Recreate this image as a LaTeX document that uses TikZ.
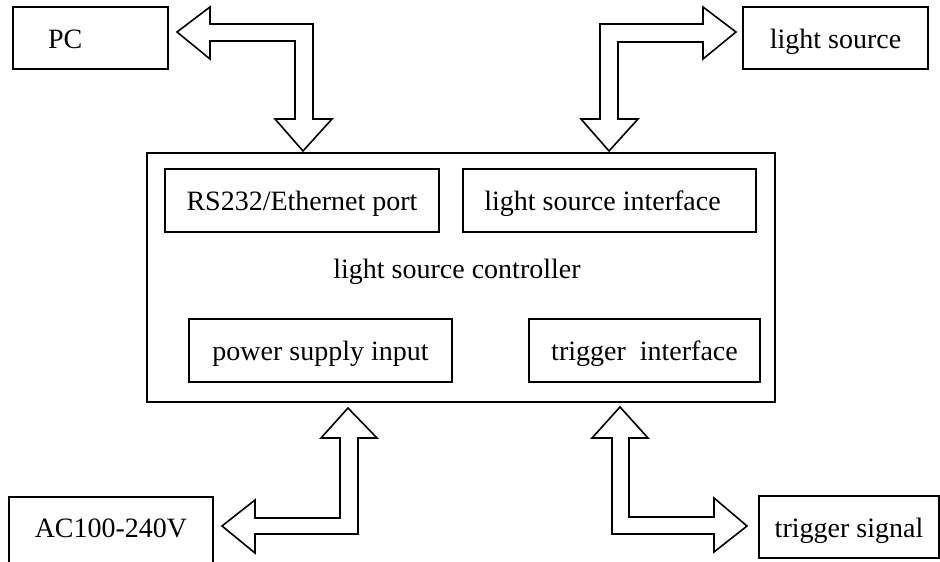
\documentclass[tikz,border=0pt]{standalone}
\usepackage{fontspec}
\setmainfont{Liberation Serif}
\begin{document}
\begin{tikzpicture}[x=1pt,y=-1pt,
  txt/.style={font=\fontsize{28}{32}\selectfont},
  box/.style={draw, rectangle, line width=1.8pt, inner sep=0pt, text height=20pt, text depth=0pt, txt},
  fat/.style={draw, line width=1.6pt, line join=miter, fill=white}]
\useasboundingbox (0,0) rectangle (940,562);
\clip (0,0) rectangle (940,562);

% outer boxes
\node[box, minimum width=155pt, minimum height=62pt, text width=85pt, inner xsep=35pt, align=left] (pc) at (90.5,38) {PC};
\node[box, minimum width=185pt, minimum height=62pt] (ls) at (835.5,38) {light source};
\node[box, minimum width=204pt, minimum height=78pt, text depth=17pt] (ac) at (111,536) {AC100-240V};
\node[box, minimum width=180pt, minimum height=62pt] (ts) at (849,527) {trigger signal};

% controller
\node[draw, line width=1.8pt, minimum width=628pt, minimum height=249pt, inner sep=0pt] (ctrl) at (461,277.5) {};
\node[txt, anchor=base, inner sep=0pt] (ctrltext) at (457,278) {light source controller};
\node[box, minimum width=274pt, minimum height=63pt] (rs) at (302,200.5) {RS232/Ethernet port};
\node[box, minimum width=293pt, minimum height=63pt] (lsi) at (609.5,200.5) {light source interface\hspace*{14pt}};
\node[box, minimum width=263pt, minimum height=63pt] (psi) at (320.5,350.5) {power supply input};
\node[box, minimum width=231pt, minimum height=63pt] (ti) at (644.5,350.5) {trigger\hspace{14pt}interface};

% PC <-> controller
\draw[fat] (177,32) -- (210,7) -- (210,24) -- (313,24) -- (313,119) -- (332,119)
  -- (303,151) -- (275,119) -- (295,119) -- (295,41) -- (210,41) -- (210,59) -- cycle;
% light source <-> controller
\draw[fat] (736,32) -- (703,7) -- (703,24) -- (600,24) -- (600,119) -- (581,119)
  -- (609,151) -- (638,119) -- (618,119) -- (618,42) -- (703,42) -- (703,59) -- cycle;
% AC <-> controller
\draw[fat] (348,408) -- (377,438) -- (358,438) -- (358,534) -- (255,534) -- (255,553)
  -- (222,526) -- (255,500) -- (255,518) -- (340,518) -- (340,438) -- (321,438) -- cycle;
% trigger signal <-> controller
\draw[fat] (620,407) -- (648,438) -- (629,438) -- (629,517) -- (714,517) -- (714,498)
  -- (747,526) -- (714,552) -- (714,534) -- (612,534) -- (612,438) -- (592,438) -- cycle;
\end{tikzpicture}
\end{document}
